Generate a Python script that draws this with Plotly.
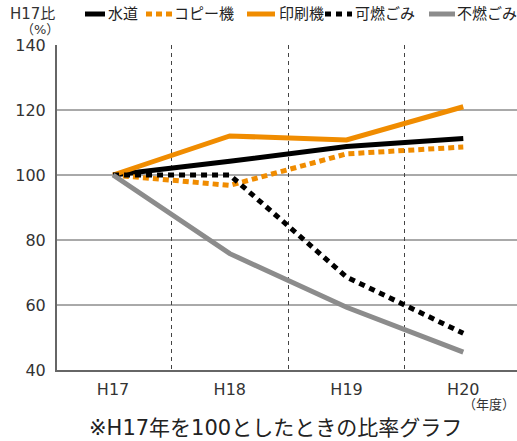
import plotly.graph_objects as go

years = ["H17", "H18", "H19", "H20"]
series_names = ["水道", "コピー機", "印刷機", "可燃ごみ", "不燃ごみ"]
suido = [100, 104.2, 108.8, 111.2]
copy_machine = [100, 96.8, 106.5, 108.6]
printing = [100, 112.0, 110.8, 121.0]
kanen = [100, 100.0, 68.6, 51.3]
funen = [100, 75.8, 59.3, 45.5]
y_ticks = [40, 60, 80, 100, 120, 140]

values = [suido, copy_machine, printing, kanen, funen]
colors = ["#000000", "#F08C00", "#F08C00", "#000000", "#8C8C8C"]
dashes = ["solid", "6px,4px", "solid", "6px,5px", "solid"]

FONT = "DejaVu Sans, Noto Sans CJK JP"
W, H = 517, 441
L, R, T, B = 57, 517, 45, 370  # plot area in pixels

fig = go.Figure()
for name, vals, col, dsh in zip(series_names, values, colors, dashes):
    fig.add_trace(go.Scatter(
        x=years, y=vals, name=name, mode="lines",
        line=dict(color=col, width=5, dash=dsh),
        showlegend=False,
    ))

def px_x(p):
    return (p - L) / (R - L)

def px_y(p):
    return (B - p) / (B - T)

shapes = []
annotations = []

# horizontal grid lines (not at 40 / 140)
for v in y_ticks[1:-1]:
    shapes.append(dict(type="line", xref="paper", yref="y", x0=0, x1=1, y0=v, y1=v,
                       line=dict(color="#555555", width=1), layer="below"))

# manual legend
leg_items = [(85, 105, 106), (146, 172, 172), (247, 275, 277), (325, 352, 353), (429, 455, 455)]
for (s0, s1, tx), name, col, dsh in zip(leg_items, series_names, colors, dashes):
    shapes.append(dict(type="line", xref="paper", yref="paper",
                       x0=px_x(s0), x1=px_x(s1), y0=px_y(14), y1=px_y(14),
                       line=dict(color=col, width=5, dash=dsh)))
    annotations.append(dict(text=name, xref="paper", yref="paper", x=px_x(tx), y=px_y(14),
                            xanchor="left", yanchor="middle", showarrow=False,
                            font=dict(size=15, color="#222222", family=FONT)))

annotations += [
    dict(text="H17比", xref="paper", yref="paper", x=px_x(57), y=px_y(14),
         xanchor="right", yanchor="middle", showarrow=False,
         font=dict(size=15, color="#333333", family=FONT)),
    dict(text="（%）", xref="paper", yref="paper", x=px_x(40), y=px_y(30),
         xanchor="center", yanchor="middle", showarrow=False,
         font=dict(size=13, color="#333333", family=FONT)),
    dict(text="（年度）", xref="paper", yref="paper", x=px_x(517), y=px_y(404),
         xanchor="right", yanchor="middle", showarrow=False,
         font=dict(size=13, color="#333333", family=FONT)),
    dict(text="※H17年を100としたときの比率グラフ", xref="paper", yref="paper",
         x=px_x(275), y=px_y(428), xanchor="center", yanchor="middle", showarrow=False,
         font=dict(size=21, color="#222222", family=FONT)),
]

fig.update_layout(
    width=W, height=H,
    margin=dict(l=L, r=W - R, t=T, b=H - B),
    paper_bgcolor="white", plot_bgcolor="white",
    font=dict(family=FONT, size=16, color="#333333"),
    shapes=shapes, annotations=annotations,
    showlegend=False,
    xaxis=dict(
        type="category", range=[-0.48, 3.46],
        tickson="boundaries", showgrid=True, griddash="4px,4px",
        gridcolor="#444444", gridwidth=1,
        showline=True, linecolor="#666666", linewidth=2,
        ticks="", ticklabelstandoff=4, tickfont=dict(size=16, color="#333333"),
        zeroline=False, fixedrange=True,
    ),
    yaxis=dict(
        range=[40, 140], tickvals=y_ticks, showgrid=False,
        showline=True, linecolor="#666666", linewidth=2,
        ticks="", ticklabelstandoff=6, tickfont=dict(size=16, color="#333333"),
        zeroline=False, fixedrange=True,
    ),
)

fig.write_html("out.html", config={"displayModeBar": False},
               post_script="document.body.style.margin='0';")
